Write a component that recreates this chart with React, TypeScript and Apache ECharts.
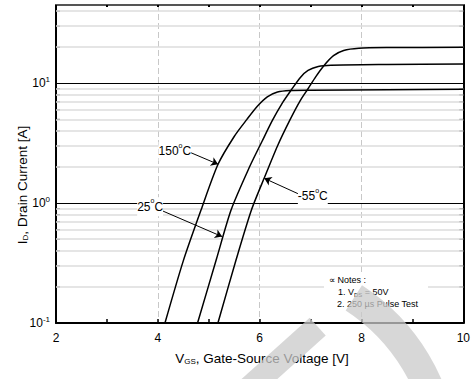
import React, { useEffect, useRef } from "react";
import * as echarts from "echarts";

// V_GS [V], I_D [A]
const curve150C: number[][] = [[4.14, 0.1], [4.5, 0.33], [4.85, 0.88], [5.18, 2.1], [5.5, 3.6], [5.75, 5.0], [5.95, 6.4], [6.15, 7.7], [6.35, 8.45], [6.6, 8.7], [7.0, 8.75], [8.5, 8.83], [10, 8.9]];
const curve25C: number[][] = [[4.78, 0.1], [5.15, 0.34], [5.44, 0.88], [5.8, 2.0], [6.05, 3.3], [6.25, 4.9], [6.45, 6.9], [6.62, 8.8], [6.8, 11.2], [6.95, 12.8], [7.15, 13.8], [7.4, 14.15], [8.5, 14.35], [10, 14.5]];
const curveM55C: number[][] = [[5.18, 0.1], [5.54, 0.34], [5.84, 0.88], [6.1, 1.66], [6.35, 3.0], [6.59, 4.9], [6.8, 7.2], [6.95, 9.0], [7.1, 11.3], [7.26, 14.0], [7.45, 17.0], [7.65, 18.8], [7.95, 19.6], [8.5, 19.85], [10, 20.0]];

const xMin = 2;
const xMax = 10;
const xInterval = 2;
const yMin = 0.1;
const yMax = 45;
const minorYLines = [0.2, 0.3, 0.4, 0.5, 0.6, 0.7, 0.8, 0.9, 2, 3, 4, 5, 6, 7, 8, 9, 20, 30, 40];
const majorYLines = [1, 10];

const annotations = [
  { temp: "150", from: [4.635, 2.65], to: [5.184, 2.11], side: "left", dy: -1 },
  { temp: "25", from: [4.083, 0.865], to: [5.262, 0.526], side: "left", dy: -4 },
  { temp: "-55", from: [6.77, 1.19], to: [6.091, 1.61], side: "right", dy: 2 },
];

const FONT = "'Liberation Sans', Arial, sans-serif";
const WM = "rgba(201,201,201,0.75)";

export default function App() {
  const ref = useRef<HTMLDivElement>(null);
  useEffect(() => {
    document.body.style.margin = "0";
    const chart = echarts.init(ref.current!, undefined, { renderer: "svg" });
    const curveSeries = (name: string, data: number[][], extra: any = {}) => ({
      name,
      type: "line",
      data,
      showSymbol: false,
      smooth: 0.25,
      z: 5,
      lineStyle: { color: "#000", width: 1.5 },
      silent: true,
      ...extra,
    });
    chart.setOption({
      animation: false,
      textStyle: { fontFamily: FONT },
      grid: { left: 56, top: 5, right: 5, bottom: 56 },
      xAxis: [
        {
          type: "value",
          min: xMin,
          max: xMax,
          interval: xInterval,
          position: "bottom",
          axisLine: { lineStyle: { color: "#000", width: 2 } },
          axisTick: { inside: true, length: 4, lineStyle: { color: "#000", width: 1.5 } },
          minorTick: { show: true, splitNumber: 2, length: 4, lineStyle: { color: "#000", width: 1.5 } },
          axisLabel: { color: "#000", fontSize: 12, margin: 9, fontFamily: FONT },
          splitLine: { show: true, lineStyle: { color: "#c8c8c8", width: 1, type: [6, 3] } },
        },
        {
          type: "value",
          min: xMin,
          max: xMax,
          interval: xInterval,
          position: "top",
          axisLine: { lineStyle: { color: "#555", width: 2 } },
          axisTick: { inside: true, length: 2, lineStyle: { color: "#000", width: 2 } },
          minorTick: { show: true, splitNumber: 2, length: 2, lineStyle: { color: "#000", width: 2 } },
          axisLabel: { show: false },
          splitLine: { show: false },
        },
      ],
      yAxis: [
        {
          type: "log",
          logBase: 10,
          min: yMin,
          max: yMax,
          position: "left",
          axisLine: { show: true, lineStyle: { color: "#000", width: 2 } },
          axisTick: { show: false },
          splitLine: { show: false },
          axisLabel: {
            margin: 6,
            formatter: (v: number) => {
              const l = Math.log10(v);
              const e = Math.round(l);
              if (Math.abs(l - e) > 0.01) return "";
              return `{b|10}{s|${e}}`;
            },
            rich: {
              b: { fontSize: 12, color: "#000", fontFamily: FONT },
              s: { fontSize: 8, color: "#000", fontFamily: FONT, padding: [0, 0, 8, 0] },
            },
          },
        },
        {
          type: "log",
          logBase: 10,
          min: yMin,
          max: yMax,
          position: "right",
          axisLine: { show: true, lineStyle: { color: "#000", width: 2 } },
          axisTick: { show: false },
          axisLabel: { show: false },
          splitLine: { show: false },
        },
      ],
      series: [
        {
          name: "grid",
          type: "line",
          data: [],
          z: 1,
          silent: true,
          markLine: {
            silent: true,
            symbol: "none",
            label: { show: false },
            animation: false,
            data: [
              ...minorYLines.map((v) => ({ yAxis: v, lineStyle: { color: "#dcdcdc", width: 1.5, type: "solid" } })),
              ...majorYLines.map((v) => ({ yAxis: v, lineStyle: { color: "#000", width: 1.2, type: "solid" } })),
            ],
          },
        },
        {
          name: "ticksL",
          type: "scatter",
          data: minorYLines.map((v) => [xMin, v]),
          symbol: "rect",
          symbolSize: [4, 1],
          symbolOffset: [2, 0],
          itemStyle: { color: "#000" },
          silent: true,
          z: 4,
        },
        {
          name: "ticksR",
          type: "scatter",
          data: minorYLines.map((v) => [xMax, v]),
          symbol: "rect",
          symbolSize: [4, 1],
          symbolOffset: [-2, 0],
          itemStyle: { color: "#000" },
          silent: true,
          z: 4,
        },
        curveSeries("150°C", curve150C, {
          markLine: {
            silent: true,
            symbol: ["none", "arrow"],
            symbolSize: 7,
            label: { show: false },
            lineStyle: { color: "#000", width: 1, type: "solid" },
            data: annotations.map((a) => [{ coord: a.from }, { coord: a.to }]),
          },
        }),
        curveSeries("25°C", curve25C),
        curveSeries("-55°C", curveM55C),
      ],
    });

    const graphic: any[] = [];
    annotations.forEach((a) => {
      const p = chart.convertToPixel({ gridIndex: 0 }, a.from) as number[];
      graphic.push({
        type: "text",
        x: a.side === "left" ? p[0] + 1 : p[0] - 1,
        y: p[1] + a.dy,
        z: 50,
        style: {
          text: `{n|${a.temp}}{o|o}{n|C}`,
          fontFamily: FONT,
          fontSize: 12,
          fill: "#000",
          align: a.side === "left" ? "right" : "left",
          verticalAlign: "middle",
          backgroundColor: "#fff",
          rich: {
            n: { fontSize: 12, fontFamily: FONT, fill: "#000" },
            o: { fontSize: 7, fontFamily: FONT, fill: "#000", padding: [0, 0, 12, 0] },
          },
        },
      });
    });
    // axis titles
    graphic.push({
      type: "text",
      x: 262,
      y: 358,
      z: 50,
      style: {
        text: "{n|V}{sub|GS}{n|, Gate-Source Voltage [V]}",
        fontFamily: FONT,
        fontSize: 13.5,
        fill: "#000",
        align: "center",
        verticalAlign: "middle",
        rich: {
          n: { fontSize: 13.5, fontFamily: FONT, fill: "#000" },
          sub: { fontSize: 8, fontFamily: FONT, fill: "#000", padding: [6, 0, 0, 0] },
        },
      },
    });
    graphic.push({
      type: "text",
      x: 22,
      y: 185,
      rotation: Math.PI / 2,
      z: 50,
      style: {
        text: "{n|I}{sub|D}{n|, Drain Current [A]}",
        fontFamily: FONT,
        fontSize: 13.5,
        fill: "#000",
        align: "center",
        verticalAlign: "middle",
        rich: {
          n: { fontSize: 13.5, fontFamily: FONT, fill: "#000" },
          sub: { fontSize: 8, fontFamily: FONT, fill: "#000", padding: [6, 0, 0, 0] },
        },
      },
    });
    // notes box
    graphic.push({ type: "rect", z: 40, shape: { x: 324, y: 272, width: 104, height: 40 }, style: { fill: "#fff" } });
    graphic.push({
      type: "text",
      x: 329,
      y: 280,
      z: 50,
      style: { text: "∝ Notes :", fontFamily: FONT, fontSize: 9, fill: "#000", verticalAlign: "middle" },
    });
    graphic.push({
      type: "text",
      x: 338,
      y: 292,
      z: 50,
      style: {
        text: "{n|1. V}{sub|DS}{n| = 50V}",
        fontFamily: FONT,
        fontSize: 9,
        fill: "#000",
        verticalAlign: "middle",
        rich: {
          n: { fontSize: 9, fontFamily: FONT, fill: "#000" },
          sub: { fontSize: 6, fontFamily: FONT, fill: "#000", padding: [5, 0, 0, 0] },
        },
      },
    });
    graphic.push({
      type: "text",
      x: 337,
      y: 304,
      z: 50,
      style: { text: "2. 250 µs Pulse Test", fontFamily: FONT, fontSize: 9, fill: "#000", verticalAlign: "middle" },
    });
    // watermark
    graphic.push({
      type: "arc",
      z: 90,
      silent: true,
      shape: { cx: 246, cy: 464, r: 198, startAngle: (-57 * Math.PI) / 180, endAngle: (-5 * Math.PI) / 180 },
      style: { stroke: WM, lineWidth: 30, fill: "none" },
    });
    graphic.push({
      type: "rect",
      z: 91,
      x: 285,
      y: 356,
      rotation: (-48 * Math.PI) / 180,
      shape: { x: -12, y: -44, width: 24, height: 92 },
      style: { fill: WM },
    });
    chart.setOption({ graphic });
    return () => chart.dispose();
  }, []);
  return <div ref={ref} style={{ width: 473, height: 379 }} />;
}
